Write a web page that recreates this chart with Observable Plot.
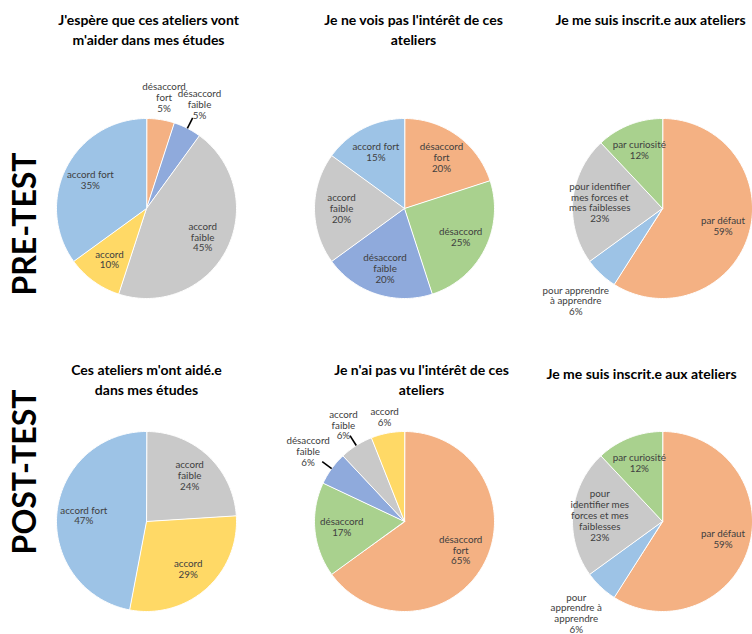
<!DOCTYPE html>
<html><head><meta charset="utf-8">
<script src="https://cdn.jsdelivr.net/npm/d3@7"></script>
<script src="https://cdn.jsdelivr.net/npm/@observablehq/plot@0.6"></script>
<style>
html,body{margin:0;padding:0;background:#fff;overflow:hidden;}
#chart{width:752px;height:634px;overflow:hidden;}
#chart svg{max-width:none !important;}
</style></head><body><div id="chart"></div>
<script>
// ---------- data ----------
const tests = ["PRE-TEST", "POST-TEST"];

const pre1Title = "J'espère que ces ateliers vont\nm'aider dans mes études";
const pre1Categories = ["désaccord fort", "désaccord faible", "accord faible", "accord", "accord fort"];
const pre1Labels = ["désaccord\nfort", "désaccord\nfaible", "accord\nfaible", "accord", "accord fort"];
const pre1Values = [5, 5, 45, 10, 35];

const pre2Title = "Je ne vois pas l'intérêt de ces\nateliers";
const pre2Categories = ["désaccord fort", "désaccord", "désaccord faible", "accord faible", "accord fort"];
const pre2Labels = ["désaccord\nfort", "désaccord", "désaccord\nfaible", "accord\nfaible", "accord fort"];
const pre2Values = [20, 25, 20, 20, 15];

const pre3Title = "Je me suis inscrit.e aux ateliers";
const pre3Categories = ["par défaut", "pour apprendre à apprendre", "pour identifier mes forces et mes faiblesses", "par curiosité"];
const pre3Labels = ["par défaut", "pour apprendre\nà apprendre", "pour identifier\nmes forces et\nmes faiblesses", "par curiosité"];
const pre3Values = [59, 6, 23, 12];

const post1Title = "Ces ateliers m'ont aidé.e\ndans mes études";
const post1Categories = ["accord faible", "accord", "accord fort"];
const post1Labels = ["accord\nfaible", "accord", "accord fort"];
const post1Values = [24, 29, 47];

const post2Title = "Je n'ai pas vu l'intérêt de ces\nateliers";
const post2Categories = ["désaccord fort", "désaccord", "désaccord faible", "accord faible", "accord"];
const post2Labels = ["désaccord\nfort", "désaccord", "désaccord\nfaible", "accord\nfaible", "accord"];
const post2Values = [65, 17, 6, 6, 6];

const post3Title = "Je me suis inscrit.e aux ateliers";
const post3Categories = ["par défaut", "pour apprendre à apprendre", "pour identifier mes forces et mes faiblesses", "par curiosité"];
const post3Labels = ["par défaut", "pour\napprendre à\napprendre", "pour\nidentifier mes\nforces et mes\nfaiblesses", "par curiosité"];
const post3Values = [59, 6, 23, 12];

const colorCategories = ["désaccord fort", "désaccord faible", "accord faible", "accord", "accord fort", "désaccord",
  "par défaut", "pour apprendre à apprendre", "pour identifier mes forces et mes faiblesses", "par curiosité"];
const colorRange = ["#F4B183", "#8FAADC", "#C9C9C9", "#FFD966", "#9DC3E6", "#A9D18E",
  "#F4B183", "#9DC3E6", "#C9C9C9", "#A9D18E"];

const pies = [
  {test: tests[0], col: 0, title: pre1Title, categories: pre1Categories, labels: pre1Labels, values: pre1Values},
  {test: tests[0], col: 1, title: pre2Title, categories: pre2Categories, labels: pre2Labels, values: pre2Values},
  {test: tests[0], col: 2, title: pre3Title, categories: pre3Categories, labels: pre3Labels, values: pre3Values},
  {test: tests[1], col: 0, title: post1Title, categories: post1Categories, labels: post1Labels, values: post1Values},
  {test: tests[1], col: 1, title: post2Title, categories: post2Categories, labels: post2Labels, values: post2Values},
  {test: tests[1], col: 2, title: post3Title, categories: post3Categories, labels: post3Labels, values: post3Values}
];

// ---------- layout ----------
const W = 791, H = 634, mL = 17, mB = 8;
const R = 90;                       // pie radius (px)
const colW = (W - mL) / 3, rowH = (H - mB) / 2;
const cyTop = 208;                  // pie centre from facet top (px)
const labelFont = 9.8, charW = 4.6, lineH = 11;
const titleDx = [2, 9, -12, 0, 17, -21];
const titleDy = [10, 10, 10, 47, 47, 51];

// ---------- derived geometry (unit radius) ----------
const slices = [], points = [], leaders = [];
pies.forEach((p, pi) => {
  const total = d3.sum(p.values);
  const n = p.values.length;
  let acc = 0;
  p.values.forEach((v, i) => {
    const a0 = acc / total * 2 * Math.PI; acc += v;
    const a1 = acc / total * 2 * Math.PI;
    const key = pi + "-" + i;
    points.push({key, test: p.test, col: p.col, category: p.categories[i], x: 0, y: 0});
    const steps = Math.max(2, Math.ceil((a1 - a0) / (Math.PI / 180)));
    for (let k = 0; k <= steps; ++k) {
      const a = a0 + (a1 - a0) * k / steps;
      points.push({key, test: p.test, col: p.col, category: p.categories[i], x: Math.sin(a), y: Math.cos(a)});
    }
    const mid = (a0 + a1) / 2;
    const text = p.labels[i] + "\n" + v + "%";
    const lines = text.split("\n");
    const small = v / total < 0.08;
    let d;
    if (small) {
      const hw = d3.max(lines, l => l.length) * charW / 2;
      const hh = lines.length * lineH / 2;
      d = (R * 1.03 + hw * Math.abs(Math.sin(mid)) + hh * Math.abs(Math.cos(mid))) / R;
    } else d = 0.7;
    slices.push({test: p.test, col: p.col, text, x: d * Math.sin(mid), y: d * Math.cos(mid)});
    if (small && i > 0 && i < n - 1) {
      const prevSmall = p.values[i - 1] / total < 0.08, nextSmall = p.values[i + 1] / total < 0.08;
      if (prevSmall || nextSmall) leaders.push({test: p.test, col: p.col,
        x1: Math.sin(mid), y1: Math.cos(mid), x2: 1.13 * Math.sin(mid), y2: 1.13 * Math.cos(mid)});
    }
  });
});

const chart = Plot.plot({
  width: W, height: H,
  marginLeft: mL, marginRight: 0, marginTop: 0, marginBottom: mB,
  style: {fontFamily: "Lato, 'Open Sans', sans-serif", background: "#fff", maxWidth: "none"},
  fx: {domain: [0, 1, 2], axis: null, padding: 0},
  fy: {domain: tests, axis: null, padding: 0},
  x: {domain: [-colW / 2 / R, colW / 2 / R], axis: null},
  y: {domain: [-(rowH - cyTop) / R, cyTop / R], axis: null},
  color: {domain: colorCategories, range: colorRange},
  marks: [
    Plot.line(points, {fx: "col", fy: "test", x: "x", y: "y", z: "key", fill: "category",
      stroke: "white", strokeWidth: 1, curve: "linear-closed"}),
    Plot.link(leaders, {fx: "col", fy: "test", x1: "x1", y1: "y1", x2: "x2", y2: "y2",
      stroke: "black", strokeWidth: 1.6}),
    Plot.text(slices, {fx: "col", fy: "test", x: "x", y: "y", text: "text",
      fontSize: labelFont, fill: "#404040", lineHeight: 1.1}),
    ...pies.map((p, i) => Plot.text([p], {fx: "col", fy: "test", text: "title",
      frameAnchor: "top", dx: titleDx[i], dy: titleDy[i], fontSize: 14, fontWeight: "bold", fill: "#000", lineHeight: 1.45})),
    Plot.text([tests[0]], {fx: () => 0, fy: d => d, text: d => d, frameAnchor: "left", textAnchor: "middle",
      rotate: -90, dx: 8, dy: 67, fontSize: 32, fontWeight: "bold", fill: "#000"}),
    Plot.text([tests[1]], {fx: () => 0, fy: d => d, text: d => d, frameAnchor: "left", textAnchor: "middle",
      rotate: -90, dx: 8, dy: 2, fontSize: 32, fontWeight: "bold", fill: "#000"})
  ]
});
document.getElementById("chart").appendChild(chart);
</script></body></html>
